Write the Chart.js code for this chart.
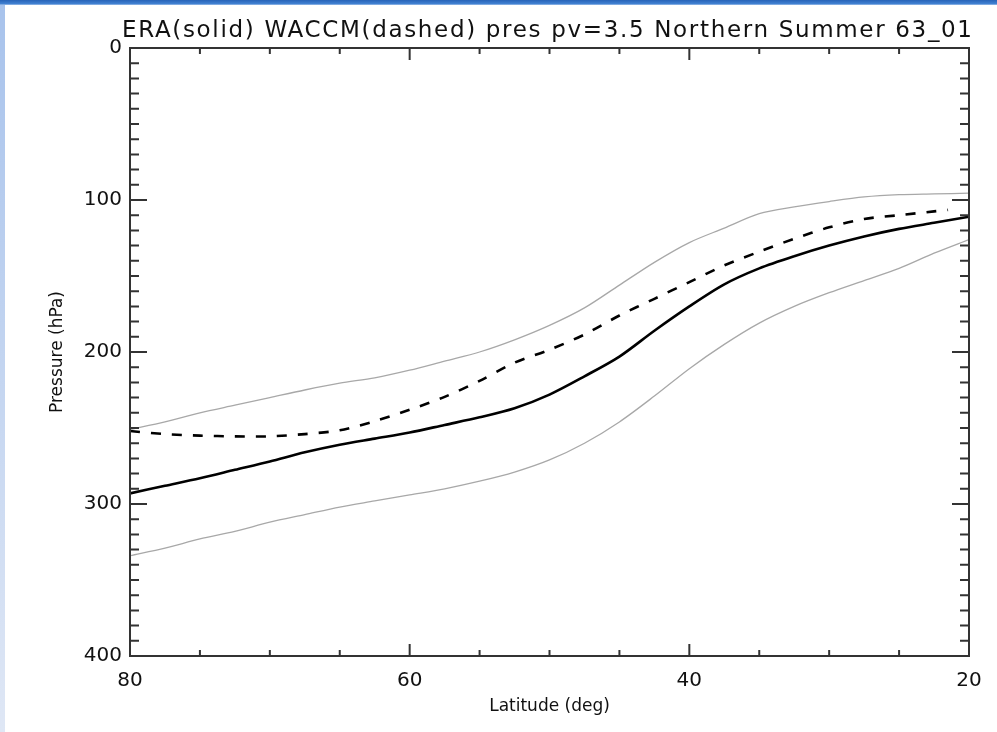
<!DOCTYPE html>
<html>
<head>
<meta charset="utf-8">
<title>ERA vs WACCM pv=3.5</title>
<script src="https://cdn.jsdelivr.net/npm/chart.js@4.4.1/dist/chart.umd.min.js"></script>
<style>
  body { margin: 0; background: #fff; }
  #wrap { position: relative; width: 997px; height: 732px; }
  #topbar { position: absolute; left: 0; top: 0; width: 997px; height: 5px;
            background: linear-gradient(#2763b8, #3f7fd0 70%, #9dbde9); z-index: 2; }
  #leftbar { position: absolute; left: 0; top: 5px; width: 5px; height: 727px;
             background: linear-gradient(#a8c3ec, #dfe7f5); z-index: 2; }
</style>
</head>
<body>
<div id="wrap">
  <div id="topbar"></div>
  <div id="leftbar"></div>
  <canvas id="pvChart" width="997" height="732"></canvas>
</div>
<script>
// latitude (deg) for the ERA and envelope curves
const latitudes = [80, 77.5, 75, 72.5, 70, 67.5, 65, 62.5, 60, 57.5, 55, 52.5, 50,
                   47.5, 45, 42.5, 40, 37.5, 35, 32.5, 30, 27.5, 25, 22.5, 20];
// ERA pressure of pv=3.5 surface (hPa), solid
const eraPressure = [293, 288, 283, 277.5, 272, 266, 261, 257, 253, 248, 243, 237, 228,
                     216, 203, 186, 170, 155.5, 145, 137, 130, 124, 119, 115, 111];
// WACCM (dashed) – ends a little before 20N
const waccmLats = [80, 77.5, 75, 72.5, 70, 67.5, 65, 62.5, 60, 57.5, 55, 52.5, 50,
                   47.5, 45, 42.5, 40, 37.5, 35, 32.5, 30, 27.5, 25, 22.5, 21.5];
const waccmPressure = [252, 254, 255, 255.5, 255.5, 254, 251.5, 245.5, 238, 229.5, 219, 207, 198.5,
                       188.5, 176, 165, 154, 143, 134, 125.5, 118, 112.5, 110, 107.5, 106.5];
// thin grey envelope lines
const upperPressure = [251, 246, 240, 235, 230, 225, 220.5, 217, 212, 206, 200, 192, 182.5,
                       171, 156, 141, 128, 118.5, 109, 104.5, 101, 98, 96.5, 96, 95.5];
const lowerPressure = [334, 329, 323, 318, 312, 307, 302, 298, 294, 290, 285, 279, 271,
                       260, 246, 229, 211, 195, 181, 170, 161, 153, 145, 135, 126];

// axis ticks
const latTicks = [80, 60, 40, 20];
const presTicks = [0, 100, 200, 300, 400];

const titleText = 'ERA(solid) WACCM(dashed) pres pv=3.5 Northern Summer 63_01';

function pts(xs, ys) {
    return xs.map((x, i) => ({ x: x, y: ys[i] }));
}

// draws the box, inward IDL-style ticks and the title
const idlFrame = {
    id: 'idlFrame',
    afterDraw(chart) {
        const ctx = chart.ctx;
        const a = chart.chartArea;
        const xs = chart.scales.x;
        const ys = chart.scales.y;
        ctx.save();
        ctx.strokeStyle = '#333';
        ctx.lineWidth = 2;
        ctx.strokeRect(a.left, a.top, a.right - a.left, a.bottom - a.top);
        ctx.beginPath();
        for (let v = 20; v <= 80; v += 5) {
            const px = xs.getPixelForValue(v);
            const len = v % 20 === 0 ? 12 : 6;
            ctx.moveTo(px, a.bottom); ctx.lineTo(px, a.bottom - len);
            ctx.moveTo(px, a.top); ctx.lineTo(px, a.top + len);
        }
        for (let v = 0; v <= 400; v += 10) {
            const py = ys.getPixelForValue(v);
            const len = v % 100 === 0 ? 17 : 9;
            ctx.moveTo(a.left, py); ctx.lineTo(a.left + len, py);
            ctx.moveTo(a.right, py); ctx.lineTo(a.right - len, py);
        }
        ctx.stroke();

        // title, stretched to the width it has in the original
        ctx.fillStyle = '#111';
        ctx.font = '23px "DejaVu Sans"';
        ctx.textBaseline = 'alphabetic';
        const w = ctx.measureText(titleText).width;
        ctx.letterSpacing = ((850 - w) / (titleText.length - 1)) + 'px';
        ctx.fillText(titleText, 122, 37);
        ctx.restore();
    }
};

const ctx = document.getElementById('pvChart').getContext('2d');
new Chart(ctx, {
    type: 'scatter',
    data: {
        datasets: [
            {
                label: 'upper',
                data: pts(latitudes, upperPressure),
                borderColor: '#a8a8a8',
                borderWidth: 1.3
            },
            {
                label: 'lower',
                data: pts(latitudes, lowerPressure),
                borderColor: '#a8a8a8',
                borderWidth: 1.3
            },
            {
                label: 'WACCM',
                data: pts(waccmLats, waccmPressure),
                borderColor: '#000',
                borderWidth: 2.6,
                borderDash: [10, 11]
            },
            {
                label: 'ERA',
                data: pts(latitudes, eraPressure),
                borderColor: '#000',
                borderWidth: 2.6
            }
        ]
    },
    options: {
        responsive: false,
        maintainAspectRatio: false,
        animation: false,
        devicePixelRatio: 1,
        layout: { padding: { top: 48, right: 28, left: 0, bottom: 0 } },
        elements: {
            point: { radius: 0, hoverRadius: 0 },
            line: { tension: 0.3, fill: false }
        },
        showLine: true,
        plugins: {
            legend: { display: false },
            tooltip: { enabled: false }
        },
        scales: {
            x: {
                type: 'linear',
                min: 20,
                max: 80,
                reverse: true,
                afterBuildTicks: s => { s.ticks = latTicks.map(v => ({ value: v })); },
                afterFit: s => { s.height = 76; },
                grid: { display: false, drawTicks: false },
                border: { display: false },
                ticks: {
                    color: '#111',
                    font: { family: 'DejaVu Sans', size: 20 },
                    padding: 13,
                    maxRotation: 0
                },
                title: {
                    display: true,
                    text: 'Latitude (deg)',
                    color: '#111',
                    font: { family: 'DejaVu Sans', size: 17 },
                    padding: { top: 0, bottom: 15 }
                }
            },
            y: {
                type: 'linear',
                min: 0,
                max: 400,
                reverse: true,
                afterBuildTicks: s => { s.ticks = presTicks.map(v => ({ value: v })); },
                afterFit: s => { s.width = 130; },
                grid: { display: false, drawTicks: false },
                border: { display: false },
                ticks: {
                    color: '#111',
                    font: { family: 'DejaVu Sans', size: 20 },
                    padding: 8
                },
                title: {
                    display: true,
                    text: 'Pressure (hPa)',
                    color: '#111',
                    font: { family: 'DejaVu Sans', size: 17 },
                    padding: { top: 47, bottom: 0 }
                }
            }
        }
    },
    plugins: [idlFrame]
});
</script>
</body>
</html>
